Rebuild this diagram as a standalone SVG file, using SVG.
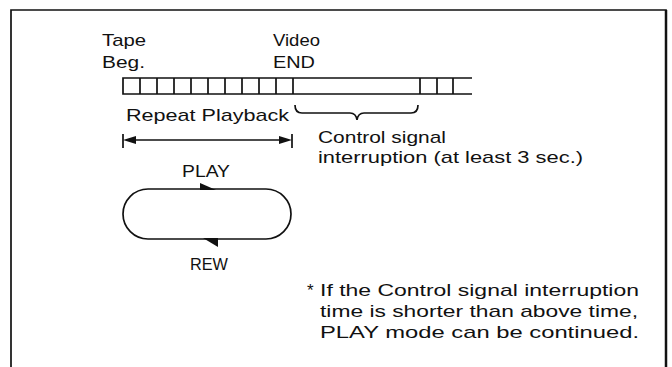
<svg xmlns="http://www.w3.org/2000/svg" width="672" height="367" viewBox="0 0 672 367">
<style>
text{font-family:"Liberation Sans",Arial,Helvetica,sans-serif;font-size:17px;fill:#111}
.ln{stroke:#111;stroke-width:1.7;fill:none}
.hd{fill:#111;stroke:none}
</style>
<rect width="672" height="367" fill="#fff"/>
<g id="frame">
<path class="ln" d="M11,372 V10 H666 V372"/>
<line x1="666" y1="10" x2="666" y2="372" stroke="#111" stroke-width="2.5"/>
</g>
<g id="labels-top">
<text x="102" y="46" textLength="44" lengthAdjust="spacingAndGlyphs">Tape</text>
<text x="102" y="68" textLength="43" lengthAdjust="spacingAndGlyphs">Beg.</text>
<text x="273" y="46" textLength="47" lengthAdjust="spacingAndGlyphs">Video</text>
<text x="273" y="68" textLength="42" lengthAdjust="spacingAndGlyphs">END</text>
</g>
<g id="tape">
<path class="ln" d="M472,78 H123 V94 H472"/>
<path class="ln" d="M140,78V94M157,78V94M174,78V94M191,78V94M208,78V94M225,78V94M242,78V94M259,78V94M276,78V94M293,78V94M420,78V94M437,78V94M453,78V94"/>
</g>
<g id="repeat-playback">
<text x="126" y="121" textLength="163" lengthAdjust="spacingAndGlyphs">Repeat Playback</text>
</g>
<g id="control-interruption">
<text x="318" y="143" textLength="128" lengthAdjust="spacingAndGlyphs">Control signal</text>
<text x="318" y="163" textLength="265" lengthAdjust="spacingAndGlyphs">interruption (at least 3 sec.)</text>
</g>
<g id="loop">
<rect class="ln" x="123" y="189" width="168" height="50" rx="25" ry="25"/>
<polygon class="hd" points="200,183 200,190 216,190"/>
<polygon class="hd" points="203,238 218,238 218,247"/>
<text x="182" y="177" textLength="48" lengthAdjust="spacingAndGlyphs">PLAY</text>
<text x="190" y="270" textLength="38" lengthAdjust="spacingAndGlyphs">REW</text>
</g>
<g id="note">
<text x="307" y="296">*</text>
<text x="320" y="296" textLength="319" lengthAdjust="spacingAndGlyphs">If the Control signal interruption</text>
<text x="320" y="317" textLength="318" lengthAdjust="spacingAndGlyphs">time is shorter than above time,</text>
<text x="320" y="338" textLength="319" lengthAdjust="spacingAndGlyphs">PLAY mode can be continued.</text>
</g>
<g id="connectors">
<path class="ln" d="M295,105 Q295,113 302,113 L350,113 Q356,113 357,120 Q358,113 364,113 L411,113 Q418,113 418,105"/>
<line class="ln" x1="130" y1="140" x2="285" y2="140"/>
<path class="ln" d="M123,134V148M292,134V148"/>
<polygon class="hd" points="123,140 136,136 136,144"/>
<polygon class="hd" points="292,140 279,136 279,144"/>
</g>
</svg>
